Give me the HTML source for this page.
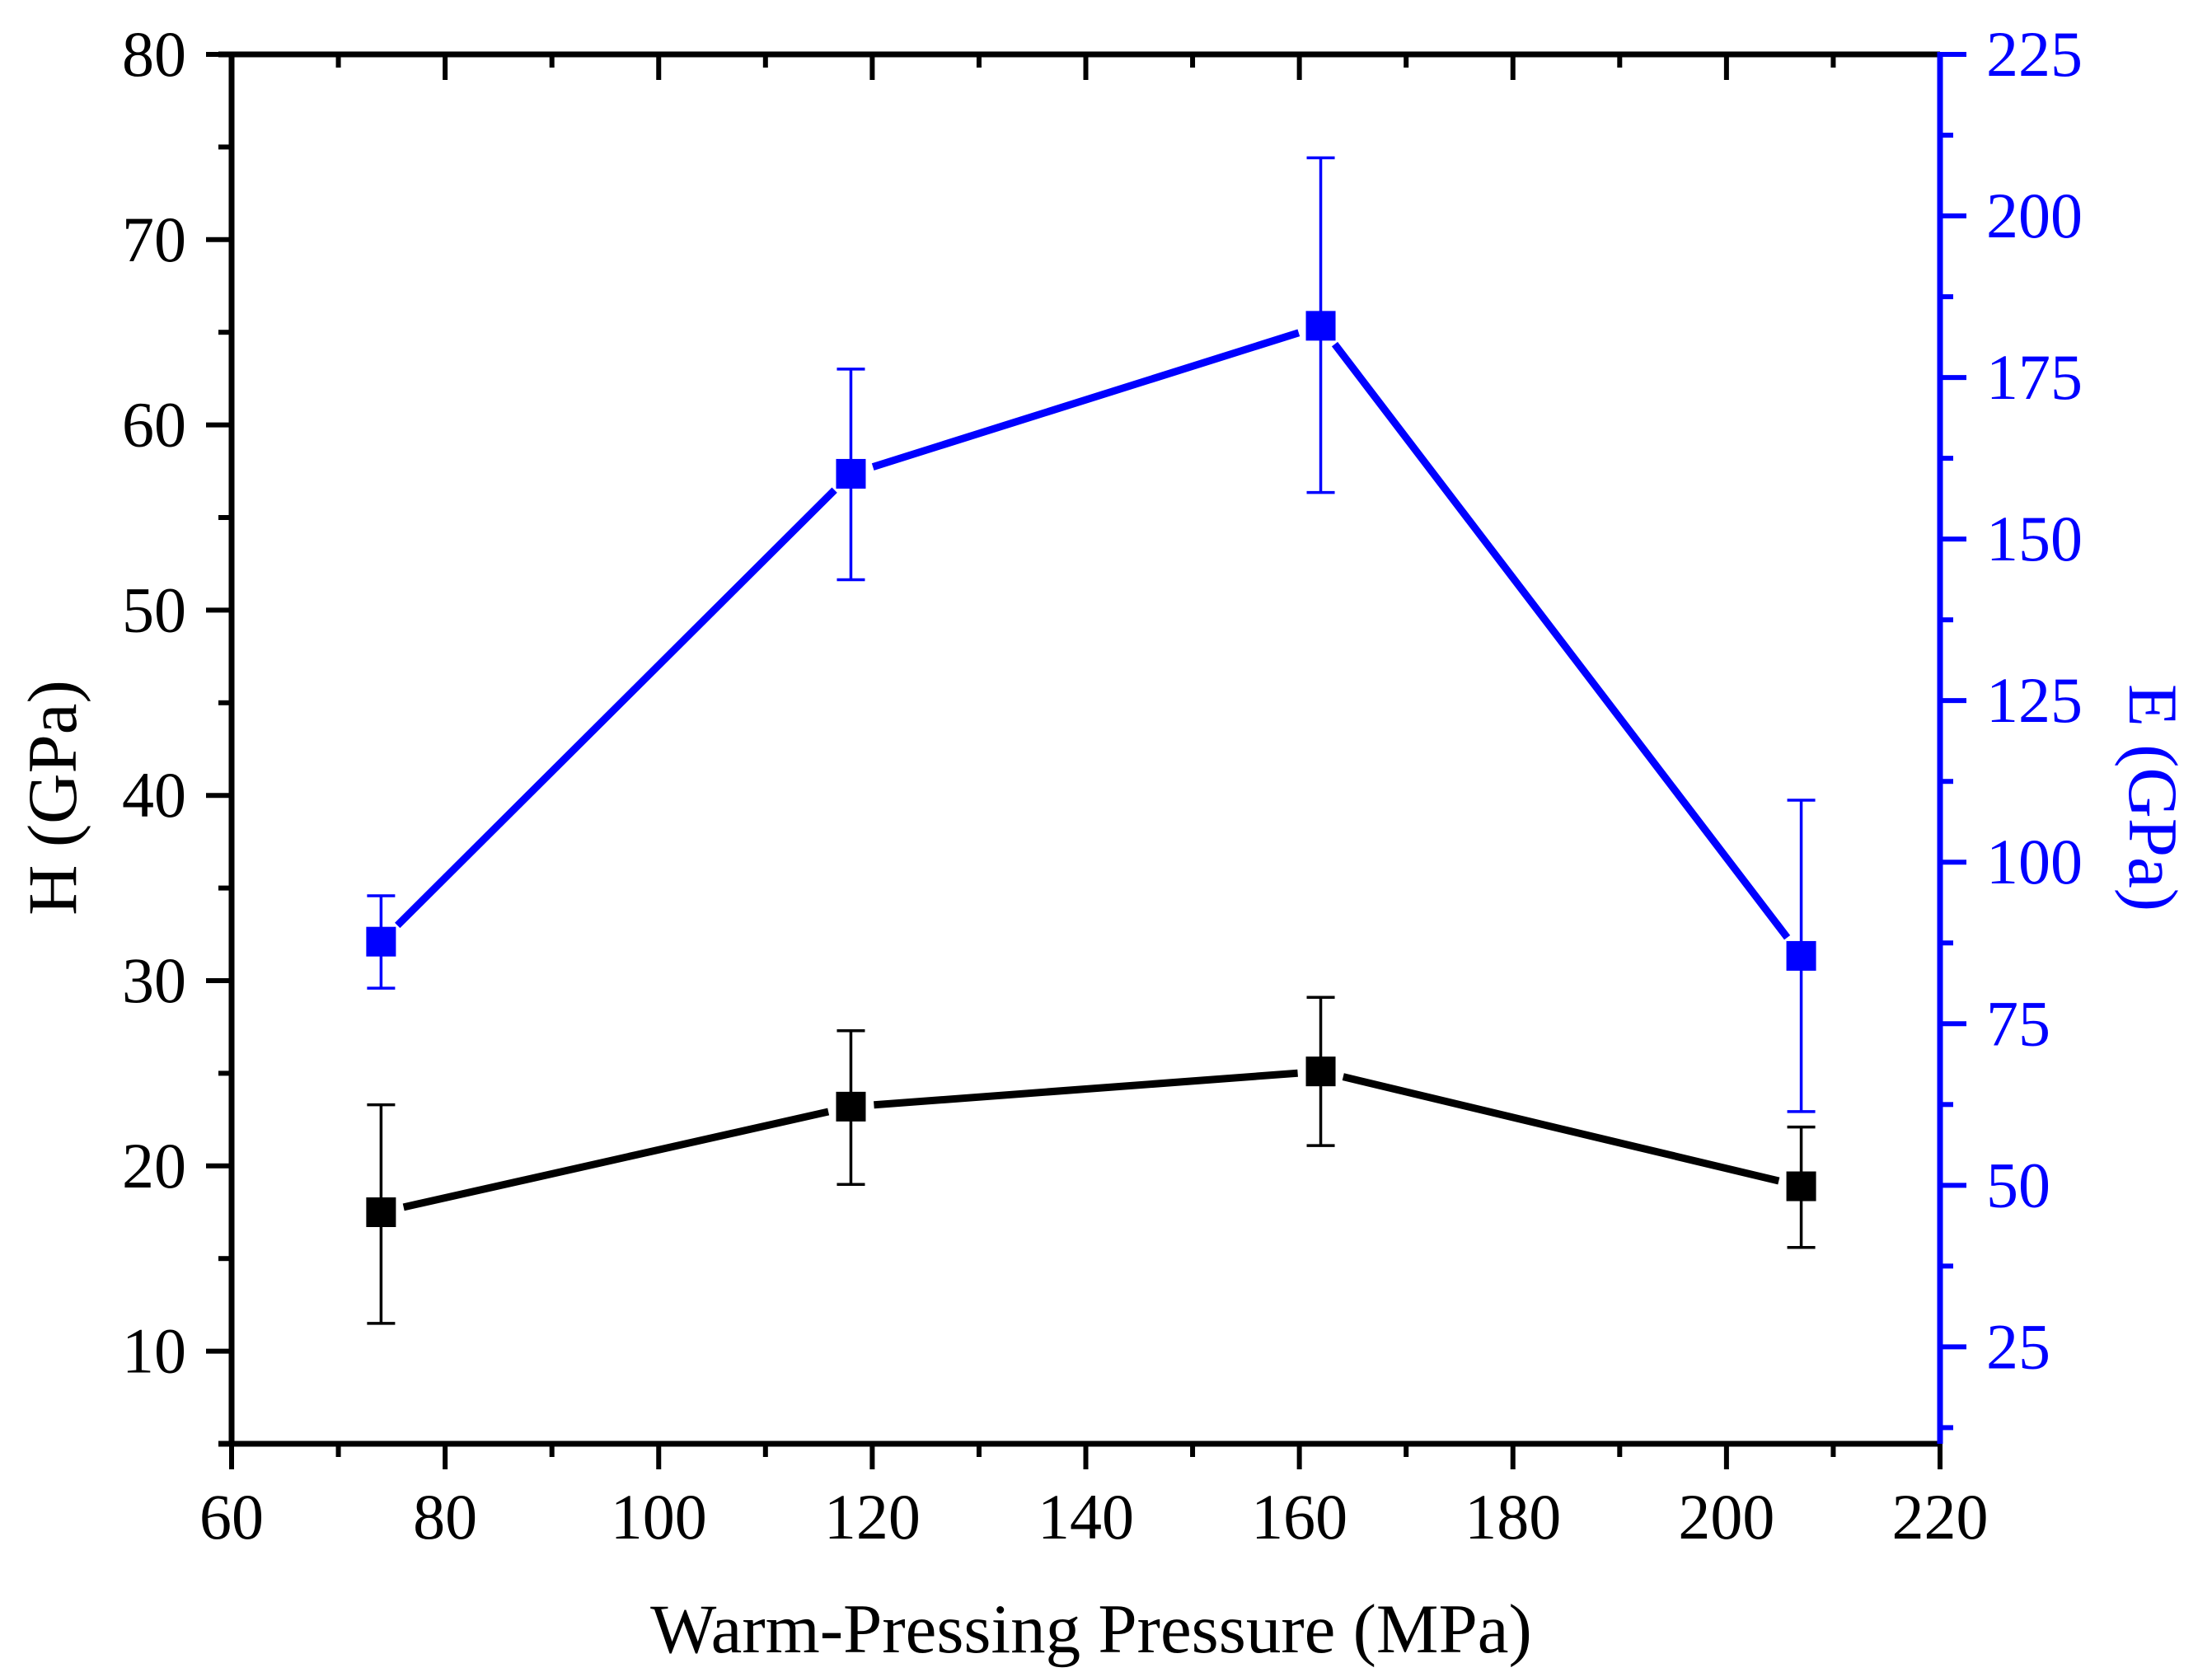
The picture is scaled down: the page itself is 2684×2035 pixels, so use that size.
<!DOCTYPE html>
<html><head><meta charset="utf-8"><style>
html,body{margin:0;padding:0;background:#fff;}
svg{display:block;font-family:"Liberation Serif",serif;}
</style></head><body>
<svg id="chart" width="2684" height="2035" viewBox="0 0 2684 2035" xmlns="http://www.w3.org/2000/svg">
<rect width="2684" height="2035" fill="#fff"/>
<g id="layer"></g>
</svg>
<script>
const pressures = [74, 118, 162, 207];
const hardness = [17.5, 23.2, 25.1, 18.9];
const hardnessErrLow = [11.5, 19.0, 21.1, 15.6];
const hardnessErrHigh = [23.3, 27.3, 29.1, 22.1];
const modulus = [87.7, 160.1, 183.0, 85.5];
const modulusErrLow = [80.5, 143.7, 157.2, 61.4];
const modulusErrHigh = [94.8, 176.3, 209.0, 109.6];
const xTicks = [60, 80, 100, 120, 140, 160, 180, 200, 220];
const yLeftTicks = [10, 20, 30, 40, 50, 60, 70, 80];
const yRightTicks = [25, 50, 75, 100, 125, 150, 175, 200, 225];

const L = 281, R = 2354, T = 66, B = 1752;
const X = v => L + (v - 60) / 160 * (R - L);
const YL = v => B - (v - 5) / 75 * (B - T);
const YR = v => B - (v - 10) / 215 * (B - T);
const NS = 'http://www.w3.org/2000/svg';
const layer = document.getElementById('layer');
function mk(tag, attrs, parent) {
  const e = document.createElementNS(NS, tag);
  for (const k in attrs) e.setAttribute(k, attrs[k]);
  (parent || layer).appendChild(e);
  return e;
}
const BLUE = '#0000ff';

const axes = mk('g', {});


for (let v = 60; v <= 220; v += 10) {
  const major = v % 20 === 0;
  const len = major ? 31 : 16;
  mk('line', {x1: X(v), x2: X(v), y1: B, y2: B + len, stroke: '#000', 'stroke-width': 6}, axes);
  mk('line', {x1: X(v), x2: X(v), y1: T, y2: T + len, stroke: '#000', 'stroke-width': 6}, axes);
}
for (let v = 5; v <= 80; v += 5) {
  const major = v % 10 === 0;
  mk('line', {x1: L, x2: L - (major ? 31 : 16), y1: YL(v), y2: YL(v), stroke: '#000', 'stroke-width': 6}, axes);
}
for (let v = 12.5; v <= 225; v += 12.5) {
  const major = Math.abs(v % 25) < 0.01;
  mk('line', {x1: R, x2: R + (major ? 32 : 16), y1: YR(v), y2: YR(v), stroke: BLUE, 'stroke-width': 6}, axes);
}
mk('line', {x1: L - 16, x2: R, y1: T, y2: T, stroke: '#000', 'stroke-width': 7}, axes);
mk('line', {x1: L - 16, x2: R, y1: B, y2: B, stroke: '#000', 'stroke-width': 7}, axes);
mk('line', {x1: L, x2: L, y1: T - 3, y2: B + 3, stroke: '#000', 'stroke-width': 7}, axes);
mk('line', {x1: R, x2: R, y1: T - 3, y2: B, stroke: BLUE, 'stroke-width': 7}, axes);

xTicks.forEach(v => {
  const t = mk('text', {x: X(v), y: 1867, 'font-size': 78, 'text-anchor': 'middle', fill: '#000'});
  
  
  t.textContent = v;
});
yLeftTicks.forEach(v => {
  const t = mk('text', {x: 226, y: YL(v) + 26, 'font-size': 78, 'text-anchor': 'end', fill: '#000'});
  
  
  t.textContent = v;
});
yRightTicks.forEach(v => {
  const t = mk('text', {x: 2410, y: YR(v) + 26, 'font-size': 78, 'text-anchor': 'start', fill: BLUE});
  
  
  t.textContent = v;
});
let tt = mk('text', {x: 1324, y: 2005, 'font-size': 85, 'text-anchor': 'middle', fill: '#000'});


tt.textContent = 'Warm-Pressing Pressure (MPa)';
tt = mk('text', {x: 0, y: 0, 'font-size': 85, 'text-anchor': 'middle', fill: '#000', transform: 'translate(92,968) rotate(-90)'});


tt.textContent = 'H (GPa)';
tt = mk('text', {x: 0, y: 0, 'font-size': 85, 'text-anchor': 'middle', fill: BLUE, transform: 'translate(2584,968) rotate(90)'});


tt.textContent = 'E (GPa)';

function series(vals, lo, hi, Y, color, name) {
  const g = mk('g', {});
  
  
  const gap = 28;
  for (let i = 0; i < vals.length - 1; i++) {
    const x1 = X(pressures[i]), y1 = Y(vals[i]), x2 = X(pressures[i + 1]), y2 = Y(vals[i + 1]);
    const d = Math.hypot(x2 - x1, y2 - y1), ux = (x2 - x1) / d, uy = (y2 - y1) / d;
    const ln = mk('line', {x1: x1 + ux * gap, y1: y1 + uy * gap, x2: x2 - ux * gap, y2: y2 - uy * gap, stroke: color, 'stroke-width': 9}, g);
    
    
  }
  vals.forEach((v, i) => {
    const x = X(pressures[i]);
    const eb = mk('path', {d: `M${x},${Y(hi[i])}V${Y(lo[i])}M${x - 17},${Y(hi[i])}h34M${x - 17},${Y(lo[i])}h34`, stroke: color, 'stroke-width': 3.5, fill: 'none'}, g);
    
    
    const m = mk('rect', {x: x - 18, y: Y(v) - 18, width: 36, height: 36, fill: color}, g);
    
    
  });
}
series(hardness, hardnessErrLow, hardnessErrHigh, YL, '#000', 'hardness');
series(modulus, modulusErrLow, modulusErrHigh, YR, BLUE, 'modulus');
</script>
</body></html>
